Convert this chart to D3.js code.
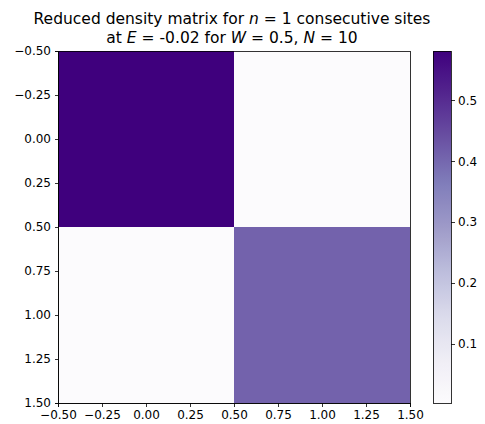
<!DOCTYPE html>
<html>
<head>
<meta charset="UTF-8">
<script src="https://cdn.jsdelivr.net/npm/d3@7"></script>
<style>
  body { margin: 0; background: #fff; }
  text { font-family: "DejaVu Sans", sans-serif; fill: #000; }
  .axis path, .axis line { stroke: #000; stroke-width: 0.8; shape-rendering: crispEdges; }
  .axis text { font-size: 12px; }
</style>
</head>
<body>
<script>
// matrix entries: rows and columns are site states 0 and 1
var rows = [0, 1];
var cols = [0, 1];
var matrix = [
  [0.581, 0.003],
  [0.003, 0.408]
];
var axisTicks = [-0.5, -0.25, 0, 0.25, 0.5, 0.75, 1, 1.25, 1.5];
var cbarTicks = [0.1, 0.2, 0.3, 0.4, 0.5];
// matplotlib "Purples"
var purples = ["#fcfbfd", "#efedf5", "#dadaeb", "#bcbddc", "#9e9ac8", "#807dba", "#6a51a3", "#54278f", "#3f007d"];

var W = 485, H = 424;
var svg = d3.select("body").append("svg").attr("width", W).attr("height", H);

var axL = 58, axT = 51, size = 352;
var x = d3.scaleLinear().domain([-0.5, 1.5]).range([axL, axL + size]);
var y = d3.scaleLinear().domain([-0.5, 1.5]).range([axT, axT + size]);

var vmin = d3.min(matrix, function(r){ return d3.min(r); });
var vmax = d3.max(matrix, function(r){ return d3.max(r); });
var norm = d3.scaleLinear().domain([vmin, vmax]).range([0, 1]);
var cmap = d3.scaleLinear()
  .domain(purples.map(function(d, i){ return i / (purples.length - 1); }))
  .range(purples)
  .interpolate(d3.interpolateRgb)
  .clamp(true);
function color(v){ return cmap(norm(v)); }

var cells = [];
rows.forEach(function(r){ cols.forEach(function(c){ cells.push({r: r, c: c, v: matrix[r][c]}); }); });

svg.append("g").selectAll("rect").data(cells).enter().append("rect")
  .attr("x", function(d){ return x(d.c - 0.5); })
  .attr("y", function(d){ return y(d.r - 0.5); })
  .attr("width", function(d){ return x(d.c + 0.5) - x(d.c - 0.5); })
  .attr("height", function(d){ return y(d.r + 0.5) - y(d.r - 0.5); })
  .attr("fill", function(d){ return color(d.v); })
  .attr("shape-rendering", "crispEdges");

function fmt(d){ return d3.format(".2f")(d).replace("-", "\u2212"); }

svg.append("g").attr("class", "axis")
  .attr("transform", "translate(0," + (axT + size) + ")")
  .call(d3.axisBottom(x).tickValues(axisTicks).tickFormat(fmt).tickSize(3.5).tickPadding(3.5));
svg.append("g").attr("class", "axis")
  .attr("transform", "translate(" + axL + ",0)")
  .call(d3.axisLeft(y).tickValues(axisTicks).tickFormat(fmt).tickSize(3.5).tickPadding(3.5));

// frame
svg.append("rect").attr("x", axL).attr("y", axT).attr("width", size).attr("height", size)
  .attr("fill", "none").attr("stroke", "#000").attr("stroke-width", 0.8)
  .attr("shape-rendering", "crispEdges");

// colorbar
var cbX = 433, cbW = 18;
var cy = d3.scaleLinear().domain([vmin, vmax]).range([axT + size, axT]);
var grad = svg.append("defs").append("linearGradient").attr("id", "cb")
  .attr("x1", 0).attr("y1", 1).attr("x2", 0).attr("y2", 0);
d3.range(0, 1.0001, 0.02).forEach(function(t){
  grad.append("stop").attr("offset", t).attr("stop-color", cmap(t));
});
svg.append("rect").attr("x", cbX).attr("y", axT).attr("width", cbW).attr("height", size)
  .attr("fill", "url(#cb)").attr("stroke", "#000").attr("stroke-width", 0.8)
  .attr("shape-rendering", "crispEdges");
svg.append("g").attr("class", "axis")
  .attr("transform", "translate(" + (cbX + cbW) + ",0)")
  .call(d3.axisRight(cy).tickValues(cbarTicks).tickFormat(d3.format(".1f")).tickSize(3.5).tickPadding(3.5))
  .select(".domain").remove();

// title: [text, italic?] pieces
var titleLines = [
  [["Reduced density matrix for ", 0], ["n", 1], [" = 1 consecutive sites", 0]],
  [["at ", 0], ["E", 1], [" = -0.02 for ", 0], ["W", 1], [" = 0.5, ", 0], ["N", 1], [" = 10", 0]]
];
var title = svg.append("text").attr("text-anchor", "middle").style("font-size", "15.5px");
titleLines.forEach(function(line, i){
  var ln = title.append("tspan").attr("x", 232).attr("y", 24 + i * 19);
  line.forEach(function(p){
    var t = ln.append("tspan").text(p[0]);
    if (p[1]) t.style("font-style", "italic");
  });
});
</script>
</body>
</html>
